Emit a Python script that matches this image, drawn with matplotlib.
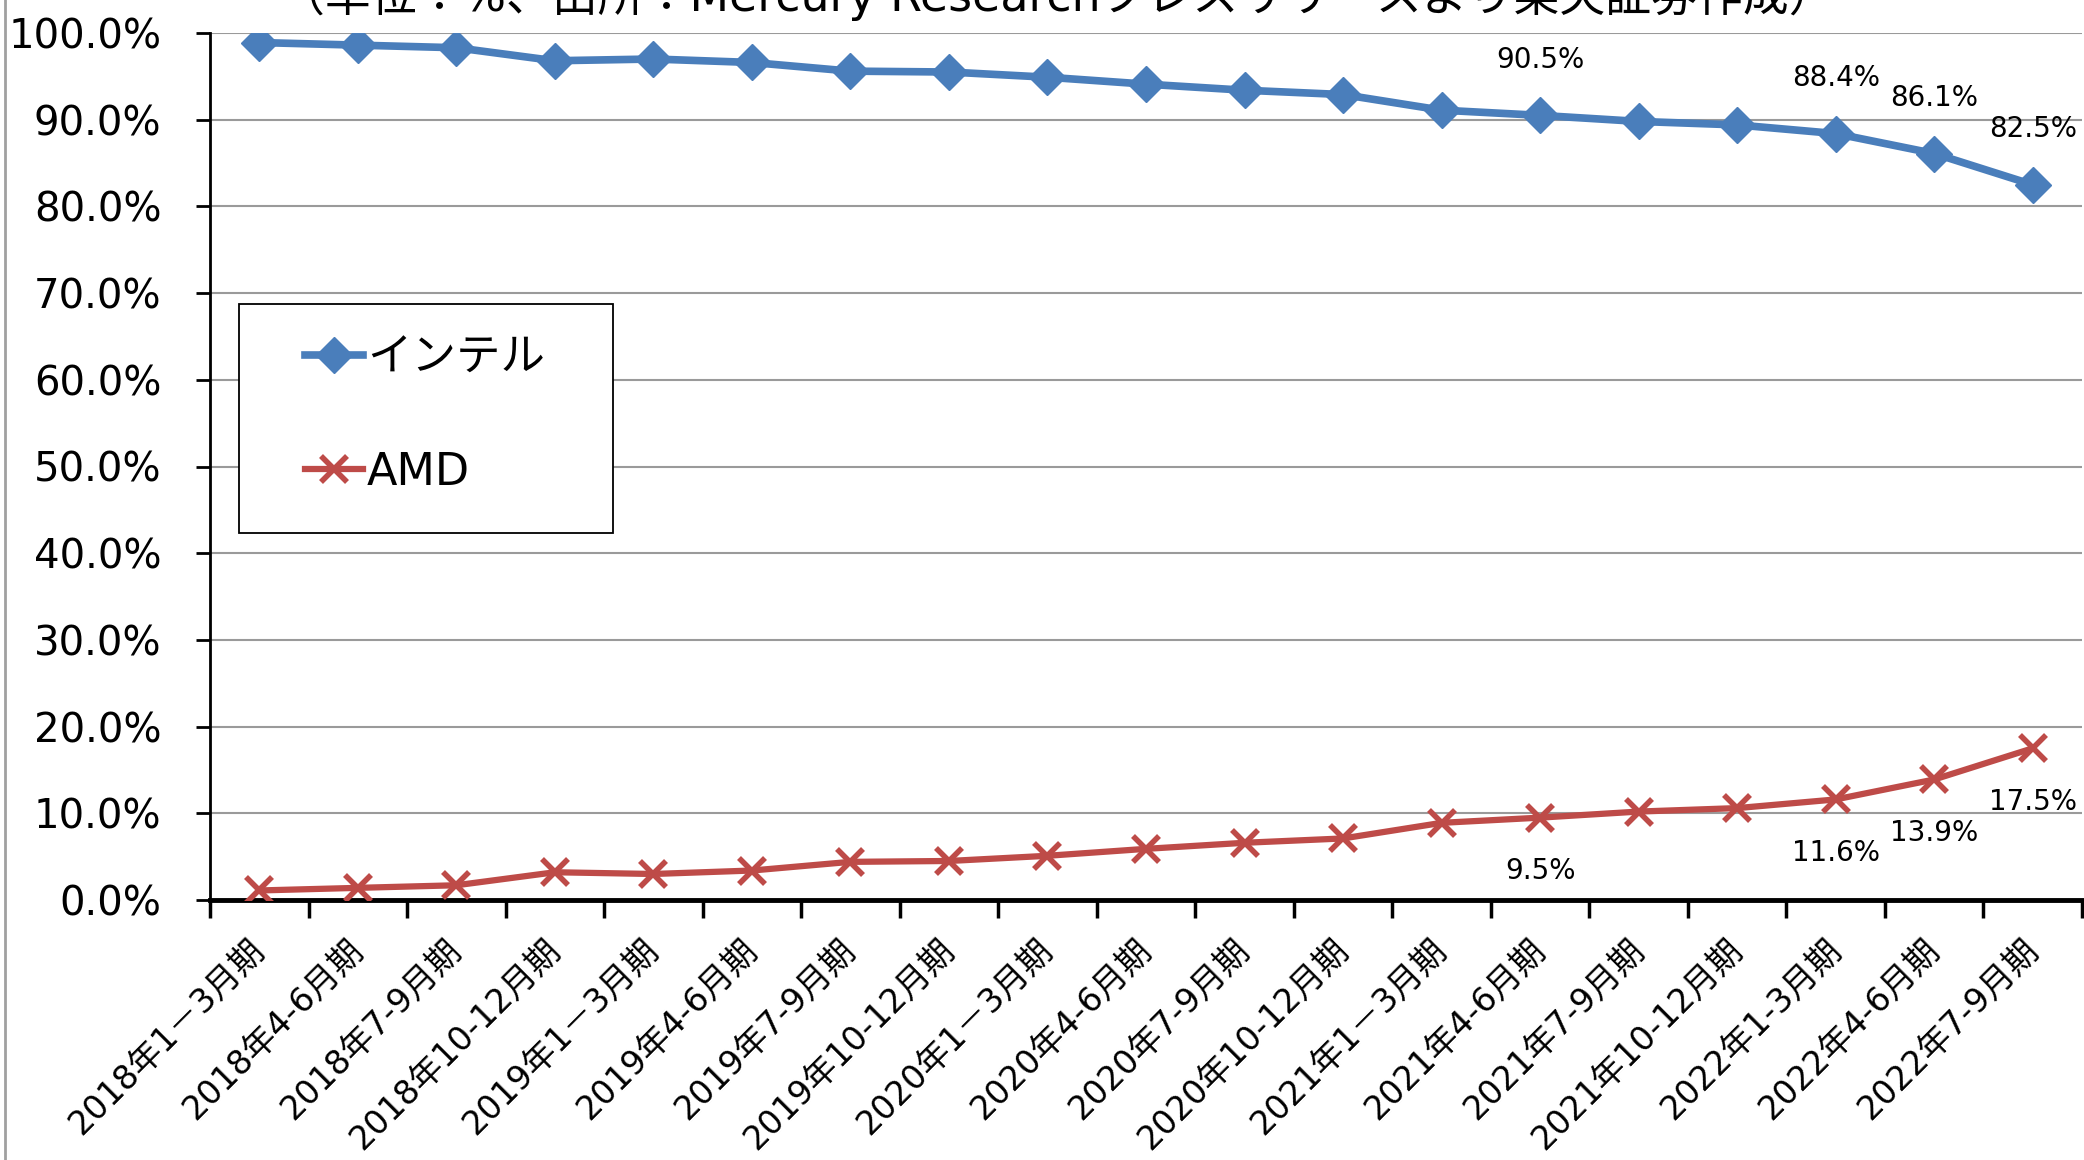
import matplotlib.pyplot as plt
from matplotlib.lines import Line2D
from matplotlib.patches import Rectangle

plt.rcParams['font.family'] = ['DejaVu Sans', 'Noto Sans CJK JP']

quarters = ['2018年1－3月期', '2018年4-6月期', '2018年7-9月期', '2018年10-12月期',
            '2019年1－3月期', '2019年4-6月期', '2019年7-9月期', '2019年10-12月期',
            '2020年1－3月期', '2020年4-6月期', '2020年7-9月期', '2020年10-12月期',
            '2021年1－3月期', '2021年4-6月期', '2021年7-9月期', '2021年10-12月期',
            '2022年1-3月期', '2022年4-6月期', '2022年7-9月期']

intel = [98.9, 98.6, 98.3, 96.8, 97.0, 96.6, 95.6, 95.5, 94.9, 94.1,
         93.4, 92.9, 91.1, 90.5, 89.8, 89.4, 88.4, 86.1, 82.5]
amd = [1.1, 1.4, 1.7, 3.2, 3.0, 3.4, 4.4, 4.5, 5.1, 5.9,
       6.6, 7.1, 8.9, 9.5, 10.2, 10.6, 11.6, 13.9, 17.5]

# only these points carry a value label
labelled = [13, 16, 17, 18]

title = '（単位：%、出所：Mercury Researchプレスリリースより楽天証券作成）'

blue = '#4a7ebb'
red = '#be4b48'

fig = plt.figure(figsize=(20.84, 11.60), dpi=100)
ax = fig.add_axes([210 / 2084, 1 - 900 / 1160, 1872 / 2084, 867 / 1160])

x = list(range(len(quarters)))
ax.plot(x, intel, color=blue, lw=5.5, marker='D', ms=18, label='インテル', zorder=3)
ax.plot(x, amd, color=red, lw=4.5, marker='x', ms=19, mew=4, label='AMD', zorder=3)

for i in labelled:
    ax.text(i, intel[i] + 6.4, f'{intel[i]:.1f}%', ha='center', va='center', fontsize=20)
    ax.text(i, amd[i] - 6.2, f'{amd[i]:.1f}%', ha='center', va='center', fontsize=20)

ax.set_xlim(-0.5, len(quarters) - 0.5)
ax.set_ylim(0, 100)

ax.set_yticks(range(0, 101, 10))
ax.set_yticklabels([f'{v:.1f}%' for v in range(0, 101, 10)], fontsize=29)
ax.yaxis.grid(True, color='#9a9a9a', lw=1.5)
ax.set_axisbelow(True)

# tick marks between categories, labels at the centres
ax.set_xticks([i - 0.5 for i in range(len(quarters) + 1)])
ax.set_xticklabels([])
ax.set_xticks(x, minor=True)
ax.set_xticklabels(quarters, minor=True, rotation=45, ha='right', va='center',
                   rotation_mode='anchor', fontsize=24)
ax.tick_params(axis='x', which='major', length=13, width=2.5, color='black')
ax.tick_params(axis='x', which='minor', length=0, pad=32)
ax.tick_params(axis='y', length=10, width=2, pad=25)

for s in ['top', 'right']:
    ax.spines[s].set_visible(False)
ax.spines['left'].set_linewidth(2)
ax.spines['bottom'].set_linewidth(3.5)

# legend box drawn by hand, entries placed inside it
ax.add_patch(Rectangle((29 / 1872, 1 - 500 / 867), 374 / 1872, 229 / 867,
                       transform=ax.transAxes, facecolor='white', edgecolor='black',
                       lw=1.3, zorder=4))
leg = ax.legend(loc='center', bbox_to_anchor=(215 / 1872, 1 - 382 / 867),
                fontsize=32, frameon=False, handlelength=1.3, handletextpad=0.1,
                labelspacing=1.6, borderpad=0, borderaxespad=0)
leg.set_zorder(5)

fig.text(0.507, 1.003, title, ha='center', va='center', fontsize=33)
fig.add_artist(Line2D([5 / 2084, 5 / 2084], [0, 1], color='#a0a0a0', lw=2))

fig.savefig('out.png', dpi=100)
